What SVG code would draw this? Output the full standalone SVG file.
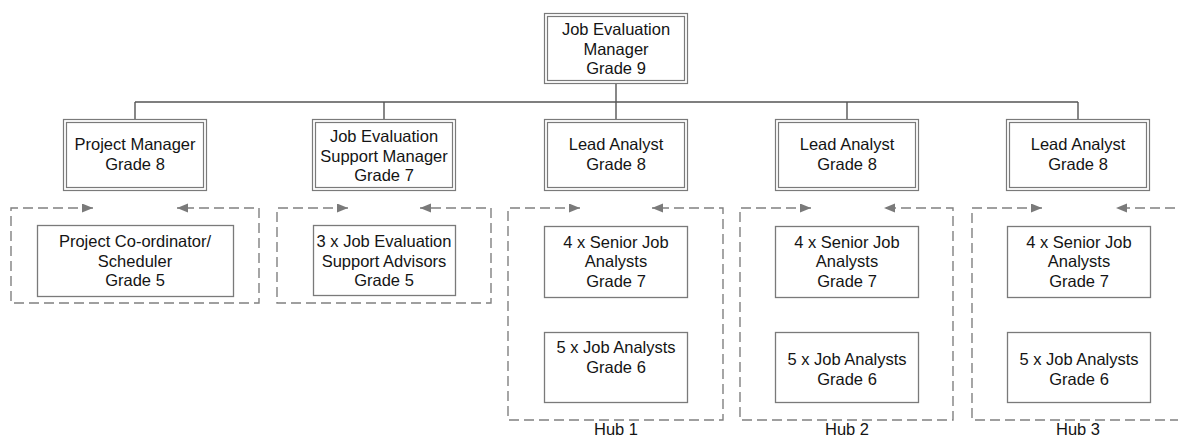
<svg xmlns="http://www.w3.org/2000/svg" width="1178" height="439" viewBox="0 0 1178 439">
  <style>
    .lbl { font-family: "Liberation Sans", Arial, sans-serif; font-size: 16.5px; fill: #141414; text-anchor: middle; }
    .dbl { fill: #ffffff; stroke: #7a7a7a; stroke-width: 1.2; }
    .dblin { fill: none; stroke: #7a7a7a; stroke-width: 1.2; }
    .box { fill: #ffffff; stroke: #7a7a7a; stroke-width: 1.3; }
    .wire { fill: none; stroke: #555555; stroke-width: 1.4; }
    .dash { fill: none; stroke: #808080; stroke-width: 1.4; stroke-dasharray: 10 5; }
    .hub { marker-start: url(#arr); marker-end: url(#arr); }
    .hubstart { marker-start: url(#arr); }
    .hubend { marker-end: url(#arr); }
  </style>
  <defs>
    <marker id="arr" markerUnits="userSpaceOnUse" markerWidth="12" markerHeight="10" refX="11" refY="4.5" orient="auto-start-reverse">
      <path d="M0,0 L11,4.5 L0,9 z" fill="#7a7a7a"/>
    </marker>
  </defs>
  <rect width="1178" height="439" fill="#ffffff"/>

  <!-- reporting lines -->
  <g id="connectors">
    <path class="wire" d="M616,83 V119"/>
    <path class="wire" d="M135,102 H1078"/>
    <path class="wire" d="M135,102 V119"/>
    <path class="wire" d="M384,102 V119"/>
    <path class="wire" d="M847,102 V119"/>
    <path class="wire" d="M1078,102 V119"/>
  </g>

  <!-- dashed team groupings -->
  <g id="groups">
    <g id="group-project">
      <path class="dash hub" d="M93,208 H11 V303 H259 V208 H177"/>
    </g>
    <g id="group-support">
      <path class="dash hub" d="M348,208 H277 V303 H491 V208 H420"/>
    </g>
    <g id="group-hub1">
      <path class="dash hub" d="M580,208 H508 V420 H723 V208 H652"/>
      <text class="lbl" x="616" y="435">Hub 1</text>
    </g>
    <g id="group-hub2">
      <path class="dash hub" d="M811,208 H740 V420 H953 V208 H884"/>
      <text class="lbl" x="847" y="435">Hub 2</text>
    </g>
    <g id="group-hub3">
      <path class="dash hubstart" d="M1042,208 H972 V420 H1190"/>
      <path class="dash hubend" d="M1190,208 H1116"/>
      <text class="lbl" x="1078" y="435">Hub 3</text>
    </g>
  </g>

  <!-- top post -->
  <g id="job-evaluation-manager">
    <rect class="dbl" x="544.5" y="13.5" width="143" height="70"/>
    <rect class="dblin" x="547.5" y="16.5" width="137" height="64"/>
    <text class="lbl" x="616" y="35">Job Evaluation</text>
    <text class="lbl" x="616" y="54.5">Manager</text>
    <text class="lbl" x="616" y="74">Grade 9</text>
  </g>

  <!-- second tier -->
  <g id="project-manager">
    <rect class="dbl" x="63.5" y="119.5" width="143" height="71"/>
    <rect class="dblin" x="66.5" y="122.5" width="137" height="65"/>
    <text class="lbl" x="135" y="150">Project Manager</text>
    <text class="lbl" x="135" y="169.5">Grade 8</text>
  </g>
  <g id="support-manager">
    <rect class="dbl" x="312.5" y="119.5" width="143" height="71"/>
    <rect class="dblin" x="315.5" y="122.5" width="137" height="65"/>
    <text class="lbl" x="384" y="142">Job Evaluation</text>
    <text class="lbl" x="384" y="161.5">Support Manager</text>
    <text class="lbl" x="384" y="181">Grade 7</text>
  </g>
  <g id="lead-analyst-1">
    <rect class="dbl" x="544.5" y="119.5" width="143" height="71"/>
    <rect class="dblin" x="547.5" y="122.5" width="137" height="65"/>
    <text class="lbl" x="616" y="150">Lead Analyst</text>
    <text class="lbl" x="616" y="169.5">Grade 8</text>
  </g>
  <g id="lead-analyst-2">
    <rect class="dbl" x="775.5" y="119.5" width="143" height="71"/>
    <rect class="dblin" x="778.5" y="122.5" width="137" height="65"/>
    <text class="lbl" x="847" y="150">Lead Analyst</text>
    <text class="lbl" x="847" y="169.5">Grade 8</text>
  </g>
  <g id="lead-analyst-3">
    <rect class="dbl" x="1006.5" y="119.5" width="143" height="71"/>
    <rect class="dblin" x="1009.5" y="122.5" width="137" height="65"/>
    <text class="lbl" x="1078" y="150">Lead Analyst</text>
    <text class="lbl" x="1078" y="169.5">Grade 8</text>
  </g>

  <!-- third tier -->
  <g id="project-coordinator">
    <rect class="box" x="37.5" y="225.5" width="196" height="71"/>
    <text class="lbl" x="135" y="247">Project Co-ordinator/</text>
    <text class="lbl" x="135" y="266.5">Scheduler</text>
    <text class="lbl" x="135" y="286">Grade 5</text>
  </g>
  <g id="support-advisors">
    <rect class="box" x="313.5" y="225.5" width="142" height="70"/>
    <text class="lbl" x="384" y="247">3 x Job Evaluation</text>
    <text class="lbl" x="384" y="266.5">Support Advisors</text>
    <text class="lbl" x="384" y="286">Grade 5</text>
  </g>

  <g id="hub1-senior">
    <rect class="box" x="544.5" y="226.5" width="143" height="71"/>
    <text class="lbl" x="616" y="247.5">4 x Senior Job</text>
    <text class="lbl" x="616" y="267">Analysts</text>
    <text class="lbl" x="616" y="286.5">Grade 7</text>
  </g>
  <g id="hub1-analysts">
    <rect class="box" x="544.5" y="332.5" width="143" height="70"/>
    <text class="lbl" x="616" y="353">5 x Job Analysts</text>
    <text class="lbl" x="616" y="372.5">Grade 6</text>
  </g>

  <g id="hub2-senior">
    <rect class="box" x="775.5" y="226.5" width="143" height="71"/>
    <text class="lbl" x="847" y="247.5">4 x Senior Job</text>
    <text class="lbl" x="847" y="267">Analysts</text>
    <text class="lbl" x="847" y="286.5">Grade 7</text>
  </g>
  <g id="hub2-analysts">
    <rect class="box" x="775.5" y="332.5" width="143" height="70"/>
    <text class="lbl" x="847" y="365">5 x Job Analysts</text>
    <text class="lbl" x="847" y="384.5">Grade 6</text>
  </g>

  <g id="hub3-senior">
    <rect class="box" x="1007.5" y="226.5" width="143" height="71"/>
    <text class="lbl" x="1079" y="247.5">4 x Senior Job</text>
    <text class="lbl" x="1079" y="267">Analysts</text>
    <text class="lbl" x="1079" y="286.5">Grade 7</text>
  </g>
  <g id="hub3-analysts">
    <rect class="box" x="1007.5" y="332.5" width="143" height="70"/>
    <text class="lbl" x="1079" y="365">5 x Job Analysts</text>
    <text class="lbl" x="1079" y="384.5">Grade 6</text>
  </g>
</svg>
